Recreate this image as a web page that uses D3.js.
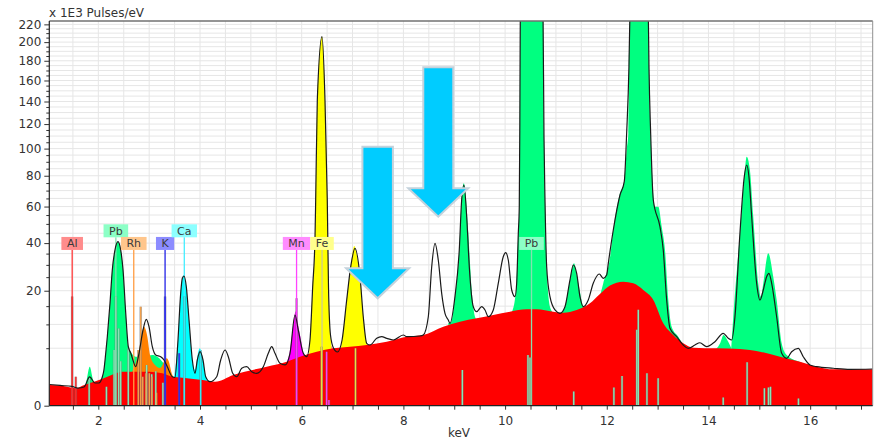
<!DOCTYPE html>
<html>
<head>
<meta charset="utf-8">
<script src="https://cdn.jsdelivr.net/npm/d3@7"></script>
<style>
  body { margin: 0; background: #fff; }
  svg { display: block; font-family: "DejaVu Sans", Verdana, sans-serif; }
</style>
</head>
<body>
<svg id="chart" width="877" height="439"></svg>
<script>
// axis ticks -------------------------------------------------------------------
const xTicks = [2, 4, 6, 8, 10, 12, 14, 16];
const yTicks = [0, 20, 40, 60, 80, 100, 120, 140, 160, 180, 200, 220];

// measured spectrum [keV, x1E3 pulses/eV] -----------------------------------------
const measured = [
  [1.036,0.68],[1.247,0.62],[1.483,0.56],[1.60,0.47],[1.72,0.53],[1.83,1.25],[1.935,0.78],[2.01,0.78],
  [2.08,1.27],[2.11,1.93],[2.146,4.20],[2.177,7.20],[2.23,15.96],[2.275,27.86],[2.328,36.7],[2.387,40.69],
  [2.44,36.7],[2.486,27.9],[2.539,13.0],[2.59,5.27],[2.637,4.20],[2.669,3.44],[2.735,2.30],[2.80,4.15],
  [2.879,8.67],[2.944,11.29],[2.997,9.44],[3.062,5.27],[3.129,3.89],[3.227,3.63],[3.292,3.16],[3.357,2.30],
  [3.455,1.27],[3.508,1.22],[3.561,5.57],[3.62,19.11],[3.652,24.55],[3.685,25.45],[3.731,21.42],[3.784,11.11],
  [3.849,3.16],[3.902,1.59],[3.947,3.16],[4.0,4.41],[4.059,3.16],[4.112,1.27],[4.197,0.87],[4.328,1.27],
  [4.407,3.16],[4.492,4.69],[4.557,3.63],[4.643,1.59],[4.722,1.27],[4.82,2.12],[4.918,2.30],[5.017,1.75],
  [5.115,1.59],[5.245,2.30],[5.343,4.15],[5.41,5.27],[5.475,4.15],[5.573,2.72],[5.672,2.51],[5.77,4.15],
  [5.868,12.44],[5.933,8.67],[6.031,4.15],[6.098,3.63],[6.163,6.53],[6.216,21.42],[6.262,43.21],[6.275,64.0],
  [6.307,141.4],[6.399,206.0],[6.458,141.4],[6.503,64.0],[6.527,21.4],[6.566,7.56],[6.625,5.04],[6.704,4.36],
  [6.794,6.53],[6.885,16.9],[6.964,29.23],[7.048,37.48],[7.147,25.18],[7.211,11.98],[7.278,5.89],[7.343,5.57],
  [7.475,6.87],[7.573,7.20],[7.672,6.87],[7.801,6.53],[7.998,7.56],[8.065,7.20],[8.326,7.35],[8.391,7.56],
  [8.49,11.98],[8.557,29.23],[8.622,39.9],[8.686,32.11],[8.753,19.11],[8.818,12.92],[8.883,11.11],[8.916,10.27],
  [9.014,17.97],[9.099,36.67],[9.146,64.0],[9.191,73.69],[9.245,54.04],[9.296,29.23],[9.375,14.83],[9.441,13.37],
  [9.54,14.83],[9.605,13.86],[9.67,11.98],[9.768,13.86],[9.866,22.66],[9.964,33.59],[10.012,35.41],[10.063,32.11],
  [10.13,20.25],[10.195,17.97],[10.228,22.66],[10.26,44.96],[10.279,59.9],[10.29,120],[10.30,240],[10.40,430],
  [10.52,520],[10.64,430],[10.745,240],[10.765,110],[10.785,64],[10.818,29.23],[10.883,17.97],[10.981,13.86],
  [11.08,12.92],[11.178,14.83],[11.276,23.9],[11.341,29.95],[11.408,26.52],[11.473,17.97],[11.538,14.83],[11.636,16.9],
  [11.734,22.66],[11.853,26.24],[11.931,24.55],[11.998,25.84],[12.03,30.68],[12.128,46.7],[12.26,67.16],[12.344,75.9],
  [12.391,112.3],[12.436,174],[12.456,235],[12.54,380],[12.637,460],[12.73,380],[12.816,235],[12.83,174],
  [12.863,112.3],[12.915,64],[13.046,48.47],[13.111,36.67],[13.178,16.9],[13.243,9.06],[13.375,7.20],[13.504,5.57],
  [13.602,4.98],[13.734,5.57],[13.832,6.0],[13.964,5.27],[14.127,6.2],[14.29,7.93],[14.389,6.87],[14.456,6.53],
  [14.521,11.98],[14.619,44.96],[14.704,79.33],[14.751,87.65],[14.796,79.33],[14.85,54.04],[14.948,22.66],[15.013,16.9],
  [15.078,20.25],[15.144,25.18],[15.19,26.52],[15.243,22.66],[15.341,11.98],[15.44,4.15],[15.538,3.40],[15.636,4.41],
  [15.766,4.98],[15.864,3.63],[15.996,2.51],[16.128,2.30],[16.454,2.12],[16.783,2.00],[17.23,2.04]
];

// background (red) ----------------------------------------------------------------
const background = [
  [1.036,0.648],[1.286,0.605],[1.575,0.458],[1.685,0.605],[1.817,0.759],[2.014,1.0],[2.177,1.27],[2.342,1.59],
  [2.466,1.75],[2.735,1.75],[2.997,1.75],[3.259,1.59],[3.455,1.27],[3.652,1.19],[3.915,1.05],[4.177,0.923],
  [4.295,0.87],[4.655,1.43],[5.312,2.30],[5.705,2.93],[5.967,3.63],[6.295,4.41],[6.621,4.98],[6.95,5.27],
  [7.278,5.57],[7.672,6.2],[8.065,7.2],[8.391,7.56],[8.785,9.44],[9.113,10.67],[9.441,11.56],[9.768,12.44],
  [10.096,13.37],[10.425,14.06],[10.621,14.06],[10.948,13.37],[11.145,13.08],[11.408,13.86],[11.67,15.86],[11.866,18.88],
  [12.063,21.86],[12.324,23.26],[12.521,22.66],[12.718,20.25],[12.915,16.9],[13.111,10.27],[13.308,7.56],[13.504,5.89],
  [13.701,5.09],[14.161,4.98],[14.619,4.86],[15.013,4.41],[15.406,3.63],[15.8,2.93],[16.128,2.30],[16.454,2.00],[17.23,2.00]
];

// element fits (background + element), one array per peak group ------------------
const pbFit = [
  [[1.74,0.47],[1.778,1.16],[1.831,2.30],[1.886,1.16],[1.915,0.65]],
  [[2.033,0.85],[2.08,1.27],[2.11,1.93],[2.146,4.2],[2.177,7.2],[2.23,15.96],[2.275,27.86],[2.328,36.7],[2.387,40.69],
   [2.44,36.7],[2.486,27.9],[2.539,13.0],[2.59,5.27],[2.637,4.41],[2.735,3.63],[2.918,3.59],[3.062,3.89],[3.16,3.63],
   [3.259,2.93],[3.325,2.30],[3.39,1.59],[3.449,1.16]],
  [[8.883,10.35],[8.936,10.6],[9.014,17.97],[9.099,36.67],[9.146,64],[9.187,74.83],[9.216,70.39],[9.277,44.96],
   [9.343,20.25],[9.408,11.98],[9.447,11.11]],
  [[10.136,13.28],[10.214,20.25],[10.26,44.96],[10.279,59.9],[10.29,120],[10.30,240],[10.40,430],[10.52,520],[10.64,430],
   [10.745,240],[10.765,110],[10.785,64],[10.818,29.23],[10.883,14.83],[10.948,13.0]],
  [[11.102,13.0],[11.178,14.83],[11.276,23.9],[11.355,30.68],[11.44,22.66],[11.538,14.83],[11.61,13.57]],
  [[11.867,18.2],[11.931,22.66],[12.066,33.59],[12.128,46.7],[12.26,68.25],[12.344,75.9],[12.391,98.9],[12.424,112.3],
   [12.436,174],[12.456,235],[12.54,380],[12.637,460],[12.73,380],[12.816,235],[12.83,174],[12.863,112.3],[12.909,70.39],
   [12.948,59.91],[13.013,59.91],[13.08,48.47],[13.145,36.67],[13.21,16.9],[13.276,9.44],[13.406,7.20],[13.479,5.95]],
  [[14.153,4.86],[14.232,5.95],[14.297,7.56],[14.369,6.53],[14.448,5.04]],
  [[14.448,5.04],[14.488,11.98],[14.619,44.96],[14.716,84.04],[14.751,93.8],[14.815,84.04],[14.881,54.04],[14.979,22.66],
   [15.032,17.97],[15.078,22.66],[15.176,35.14],[15.274,25.18],[15.341,16.9],[15.44,5.89],[15.538,3.89],[15.8,2.89],[16.036,2.32]]
];
const rhFit = [
  [[2.663,1.72],[2.755,3.16],[2.82,5.57],[2.899,9.44],[2.958,7.56],[3.017,3.89],[3.115,2.51],[3.213,2.15],
   [3.345,3.40],[3.39,2.89],[3.443,1.59],[3.489,1.16]]
];
const caFit = [
  [[3.489,1.16],[3.561,5.57],[3.62,19.11],[3.652,24.55],[3.685,25.84],[3.731,21.42],[3.784,11.11],[3.849,3.16],
   [3.902,1.93],[3.947,3.59],[3.994,4.98],[4.049,3.59],[4.112,1.27],[4.157,0.85]]
];
const mnFit = [
  [[5.672,2.51],[5.77,4.69],[5.829,9.5],[5.882,13.5],[5.927,10.0],[5.986,6.53],[6.045,3.89],[6.104,3.44]],
  [[6.30,4.0],[6.40,4.5],[6.46,5.6],[6.52,6.2],[6.58,5.4],[6.65,4.4]]
];
const feFit = [
  [[6.145,3.59],[6.163,6.53],[6.216,21.42],[6.262,43.21],[6.275,64.0],[6.307,141.4],[6.399,206.0],[6.458,141.4],
   [6.503,64.0],[6.527,21.4],[6.566,7.56],[6.605,4.69],[6.70,4.2]],
  [[6.70,4.2],[6.753,4.36],[6.794,6.53],[6.885,16.9],[6.964,29.23],[7.034,38.58],[7.107,31.24],[7.147,25.18],
   [7.211,11.98],[7.278,5.89],[7.324,4.69]]
];

// element line markers [keV, height, element] -----------------------------------
const markers = [
  [1.486,18.0,'Al'],[1.557,1.27,'Al'],
  [1.82,1.2,'Pb'],[2.16,0.55,'Pb'],[2.31,4.7,'Pb'],[2.345,18.0,'Pb'],[2.40,9.0,'Pb'],[2.44,3.0,'Pb'],[2.59,5.0,'Pb'],
  [2.95,2.5,'Pb'],[3.05,1.5,'Pb'],[3.13,1.8,'Pb'],[3.27,0.8,'Pb'],
  [2.787,4.69,'Rh'],[2.834,14.8,'Rh'],[2.873,1.27,'Rh'],[2.938,1.59,'Rh'],[3.003,1.59,'Rh'],[3.05,1.27,'Rh'],[3.144,0.25,'Rh'],
  [3.313,18.0,'K'],[3.59,4.15,'K'],
  [3.691,18.0,'Ca'],[4.013,4.69,'Ca'],
  [5.899,17.45,'Mn'],[6.49,4.41,'Mn'],[6.535,0.05,'Mn'],
  [6.39,5.27,'Fe'],[7.058,4.98,'Fe'],
  [9.16,1.93,'Pb'],[10.45,3.9,'Pb'],[10.49,3.5,'Pb'],[11.35,0.3,'Pb'],[12.14,0.5,'Pb'],[12.30,1.33,'Pb'],
  [12.59,8.7,'Pb'],[12.62,13.9,'Pb'],[12.79,1.6,'Pb'],[13.01,1.14,'Pb'],[14.29,0.1,'Pb'],[14.76,2.85,'Pb'],
  [15.10,0.46,'Pb'],[15.18,0.5,'Pb'],[15.22,0.55,'Pb'],[15.77,0.08,'Pb']
];

// element labels: keV of the stem, box bottom (counts) -----------------------------
const labels = [
  { el: 'Al', e: 1.486, bottom: 36.7 },
  { el: 'Pb', e: 2.345, bottom: 42.9 },
  { el: 'Rh', e: 2.697, bottom: 36.7 },
  { el: 'K',  e: 3.313, bottom: 36.7 },
  { el: 'Ca', e: 3.691, bottom: 42.9 },
  { el: 'Mn', e: 5.899, bottom: 36.7 },
  { el: 'Fe', e: 6.40,  bottom: 36.7 },
  { el: 'Pb', e: 10.52, bottom: 36.7 }
];

// annotation arrows: centre keV, half widths in keV, levels in counts ----------------
const arrows = [
  { e: 7.494, shaft: 0.30, head: 0.62, top: 101.5, base: 28.56, tip: 17.45 },
  { e: 8.686, shaft: 0.295, head: 0.59, top: 173.2, base: 71.5, tip: 54.04 }
];

// styles ---------------------------------------------------------------------------
const fillColor = { Pb: '#00ff80', Rh: '#ff8000', Ca: '#00ffff', Mn: '#ff00ff', Fe: '#ffff00', K: '#0000ff', Al: '#ff0000' };
const markColor = { Pb: '#86e8b6', Rh: '#f2a04a', Ca: '#38e8f4', Mn: '#ff38ff', Fe: '#e8e040', K: '#2626ff', Al: '#ff2a2a' };
const stemColor = { Pb: '#86e0b0', Rh: '#ff9c42', Ca: '#44eeff', Mn: '#ff44ff', Fe: '#cccc90', K: '#2222e6', Al: '#ff3a3a' };

// ---------------------------------------------------------------------------------
const svg = d3.select('#chart');
const W = 877, H = 439;
const plot = { left: 49.3, right: 872.7, top: 21, bottom: 405.7 };

const x = d3.scaleLinear().domain([1.036, 17.23]).range([plot.left, plot.right]);
const y = d3.scaleSqrt().domain([0, 223.9]).range([plot.bottom, plot.top]);

svg.append('defs').append('clipPath').attr('id', 'clip')
  .append('rect')
  .attr('x', plot.left).attr('y', plot.top)
  .attr('width', plot.right - plot.left).attr('height', plot.bottom - plot.top);

// grid ------------------------------------------------------------------------------
const xMinor = d3.range(1.5, 17.01, 0.5);
const yMinor = d3.range(5, 221, 5);
const grid = svg.append('g').attr('stroke', '#e6e6e6').attr('stroke-width', 1);
grid.selectAll('.vg').data(xMinor).enter().append('line')
  .attr('x1', d => x(d)).attr('x2', d => x(d))
  .attr('y1', plot.top).attr('y2', plot.bottom);
grid.selectAll('.hg').data(yMinor).enter().append('line')
  .attr('x1', plot.left).attr('x2', plot.right)
  .attr('y1', d => y(d)).attr('y2', d => y(d));

// areas -------------------------------------------------------------------------------
const area = d3.area()
  .x(d => x(d[0]))
  .y0(y(0))
  .y1(d => y(d[1]))
  .curve(d3.curveMonotoneX);
const line = d3.line()
  .x(d => x(d[0]))
  .y(d => y(d[1]))
  .curve(d3.curveMonotoneX);

const body = svg.append('g').attr('clip-path', 'url(#clip)');
[['Pb', pbFit], ['Rh', rhFit], ['Ca', caFit], ['Mn', mnFit], ['Fe', feFit]].forEach(([el, groups]) => {
  body.append('g').selectAll('path').data(groups).enter().append('path')
    .attr('d', area)
    .attr('fill', fillColor[el]);
});
body.append('path').attr('d', area(background)).attr('fill', '#ff0000');

// label stems -------------------------------------------------------------------------
body.selectAll('.stem').data(labels).enter().append('line')
  .attr('x1', d => x(d.e)).attr('x2', d => x(d.e))
  .attr('y1', d => y(d.bottom)).attr('y2', y(0))
  .attr('stroke', d => stemColor[d.el])
  .attr('stroke-width', 1.3);

// marker lines -------------------------------------------------------------------------
body.selectAll('.mk-under').data(markers).enter().append('line')
  .attr('x1', d => x(d[0])).attr('x2', d => x(d[0]))
  .attr('y1', d => y(d[1])).attr('y2', y(0))
  .attr('stroke', 'rgba(110,110,110,0.55)')
  .attr('stroke-width', 2.6);
body.selectAll('.mk').data(markers).enter().append('line')
  .attr('x1', d => x(d[0])).attr('x2', d => x(d[0]))
  .attr('y1', d => y(d[1])).attr('y2', y(0))
  .attr('stroke', d => markColor[d[2]])
  .attr('stroke-width', 1.4);

// measured spectrum -------------------------------------------------------------------
body.append('path')
  .attr('d', line(measured))
  .attr('fill', 'none')
  .attr('stroke', '#1a1a1a')
  .attr('stroke-width', 1.2);

// axes -----------------------------------------------------------------------------------
const yAxis = svg.append('g').attr('transform', `translate(${plot.left},0)`)
  .call(d3.axisLeft(y).tickValues(yTicks).tickSize(5).tickPadding(3));
svg.append('g').attr('transform', `translate(${plot.left},0)`)
  .call(d3.axisLeft(y).tickValues(yMinor.filter(v => v % 20 !== 0)).tickSize(3).tickFormat(''));
const xAxis = svg.append('g').attr('transform', `translate(0,${plot.bottom})`)
  .call(d3.axisBottom(x).tickValues(xTicks).tickSize(4).tickPadding(7));
svg.append('g').attr('transform', `translate(0,${plot.bottom})`)
  .call(d3.axisBottom(x).tickValues(xMinor.filter(v => v % 2 !== 0)).tickSize(4).tickFormat(''));

svg.selectAll('.domain').remove();
svg.selectAll('.tick line').attr('stroke', '#333');
svg.selectAll('.tick text')
  .attr('font-size', '12px')
  .attr('font-family', '"DejaVu Sans", Verdana, sans-serif')
  .attr('fill', '#333');

// frame
svg.append('line').attr('x1', plot.left).attr('x2', plot.right).attr('y1', plot.top).attr('y2', plot.top)
  .attr('stroke', '#707070').attr('stroke-width', 1.5);
svg.append('line').attr('x1', plot.right).attr('x2', plot.right).attr('y1', plot.top).attr('y2', plot.bottom)
  .attr('stroke', '#909090').attr('stroke-width', 1);
svg.append('line').attr('x1', plot.left).attr('x2', plot.left).attr('y1', plot.top).attr('y2', plot.bottom)
  .attr('stroke', '#222').attr('stroke-width', 1.2);
svg.append('line').attr('x1', plot.left).attr('x2', plot.right).attr('y1', plot.bottom).attr('y2', plot.bottom)
  .attr('stroke', '#222').attr('stroke-width', 1.2);

// arrows ----------------------------------------------------------------------------------
svg.selectAll('.arrow').data(arrows).enter().append('path')
  .attr('d', a => {
    const pts = [
      [x(a.e - a.shaft), y(a.top)], [x(a.e + a.shaft), y(a.top)],
      [x(a.e + a.shaft), y(a.base)], [x(a.e + a.head), y(a.base)],
      [x(a.e), y(a.tip)],
      [x(a.e - a.head), y(a.base)], [x(a.e - a.shaft), y(a.base)]
    ];
    return 'M' + pts.map(p => p.join(',')).join('L') + 'Z';
  })
  .attr('fill', '#00ccff')
  .attr('stroke', '#c4d2dc')
  .attr('stroke-width', 2)
  .attr('stroke-linejoin', 'miter');

// element labels ------------------------------------------------------------------------
const lab = svg.selectAll('.lab').data(labels).enter().append('g');
lab.append('rect');
lab.append('text')
  .attr('x', d => x(d.e))
  .attr('y', d => y(d.bottom) - 2.6)
  .attr('text-anchor', 'middle')
  .attr('font-size', '11px')
  .attr('fill', '#3a3a3a')
  .text(d => d.el);
lab.each(function (d) {
  const g = d3.select(this);
  const w = g.select('text').node().getComputedTextLength() + 11;
  g.select('rect')
    .attr('x', x(d.e) - w / 2)
    .attr('y', y(d.bottom) - 13)
    .attr('width', w)
    .attr('height', 13)
    .attr('fill', d3.interpolateRgb('#ffffff', fillColor[d.el])(0.45));
});

// titles -----------------------------------------------------------------------------------
svg.append('text')
  .attr('x', 49).attr('y', 16.5)
  .attr('font-size', '12px')
  .attr('fill', '#333')
  .text('x 1E3 Pulses/eV');
svg.append('text')
  .attr('x', 459).attr('y', 437)
  .attr('text-anchor', 'middle')
  .attr('font-size', '12px')
  .attr('fill', '#333')
  .text('keV');
</script>
</body>
</html>
